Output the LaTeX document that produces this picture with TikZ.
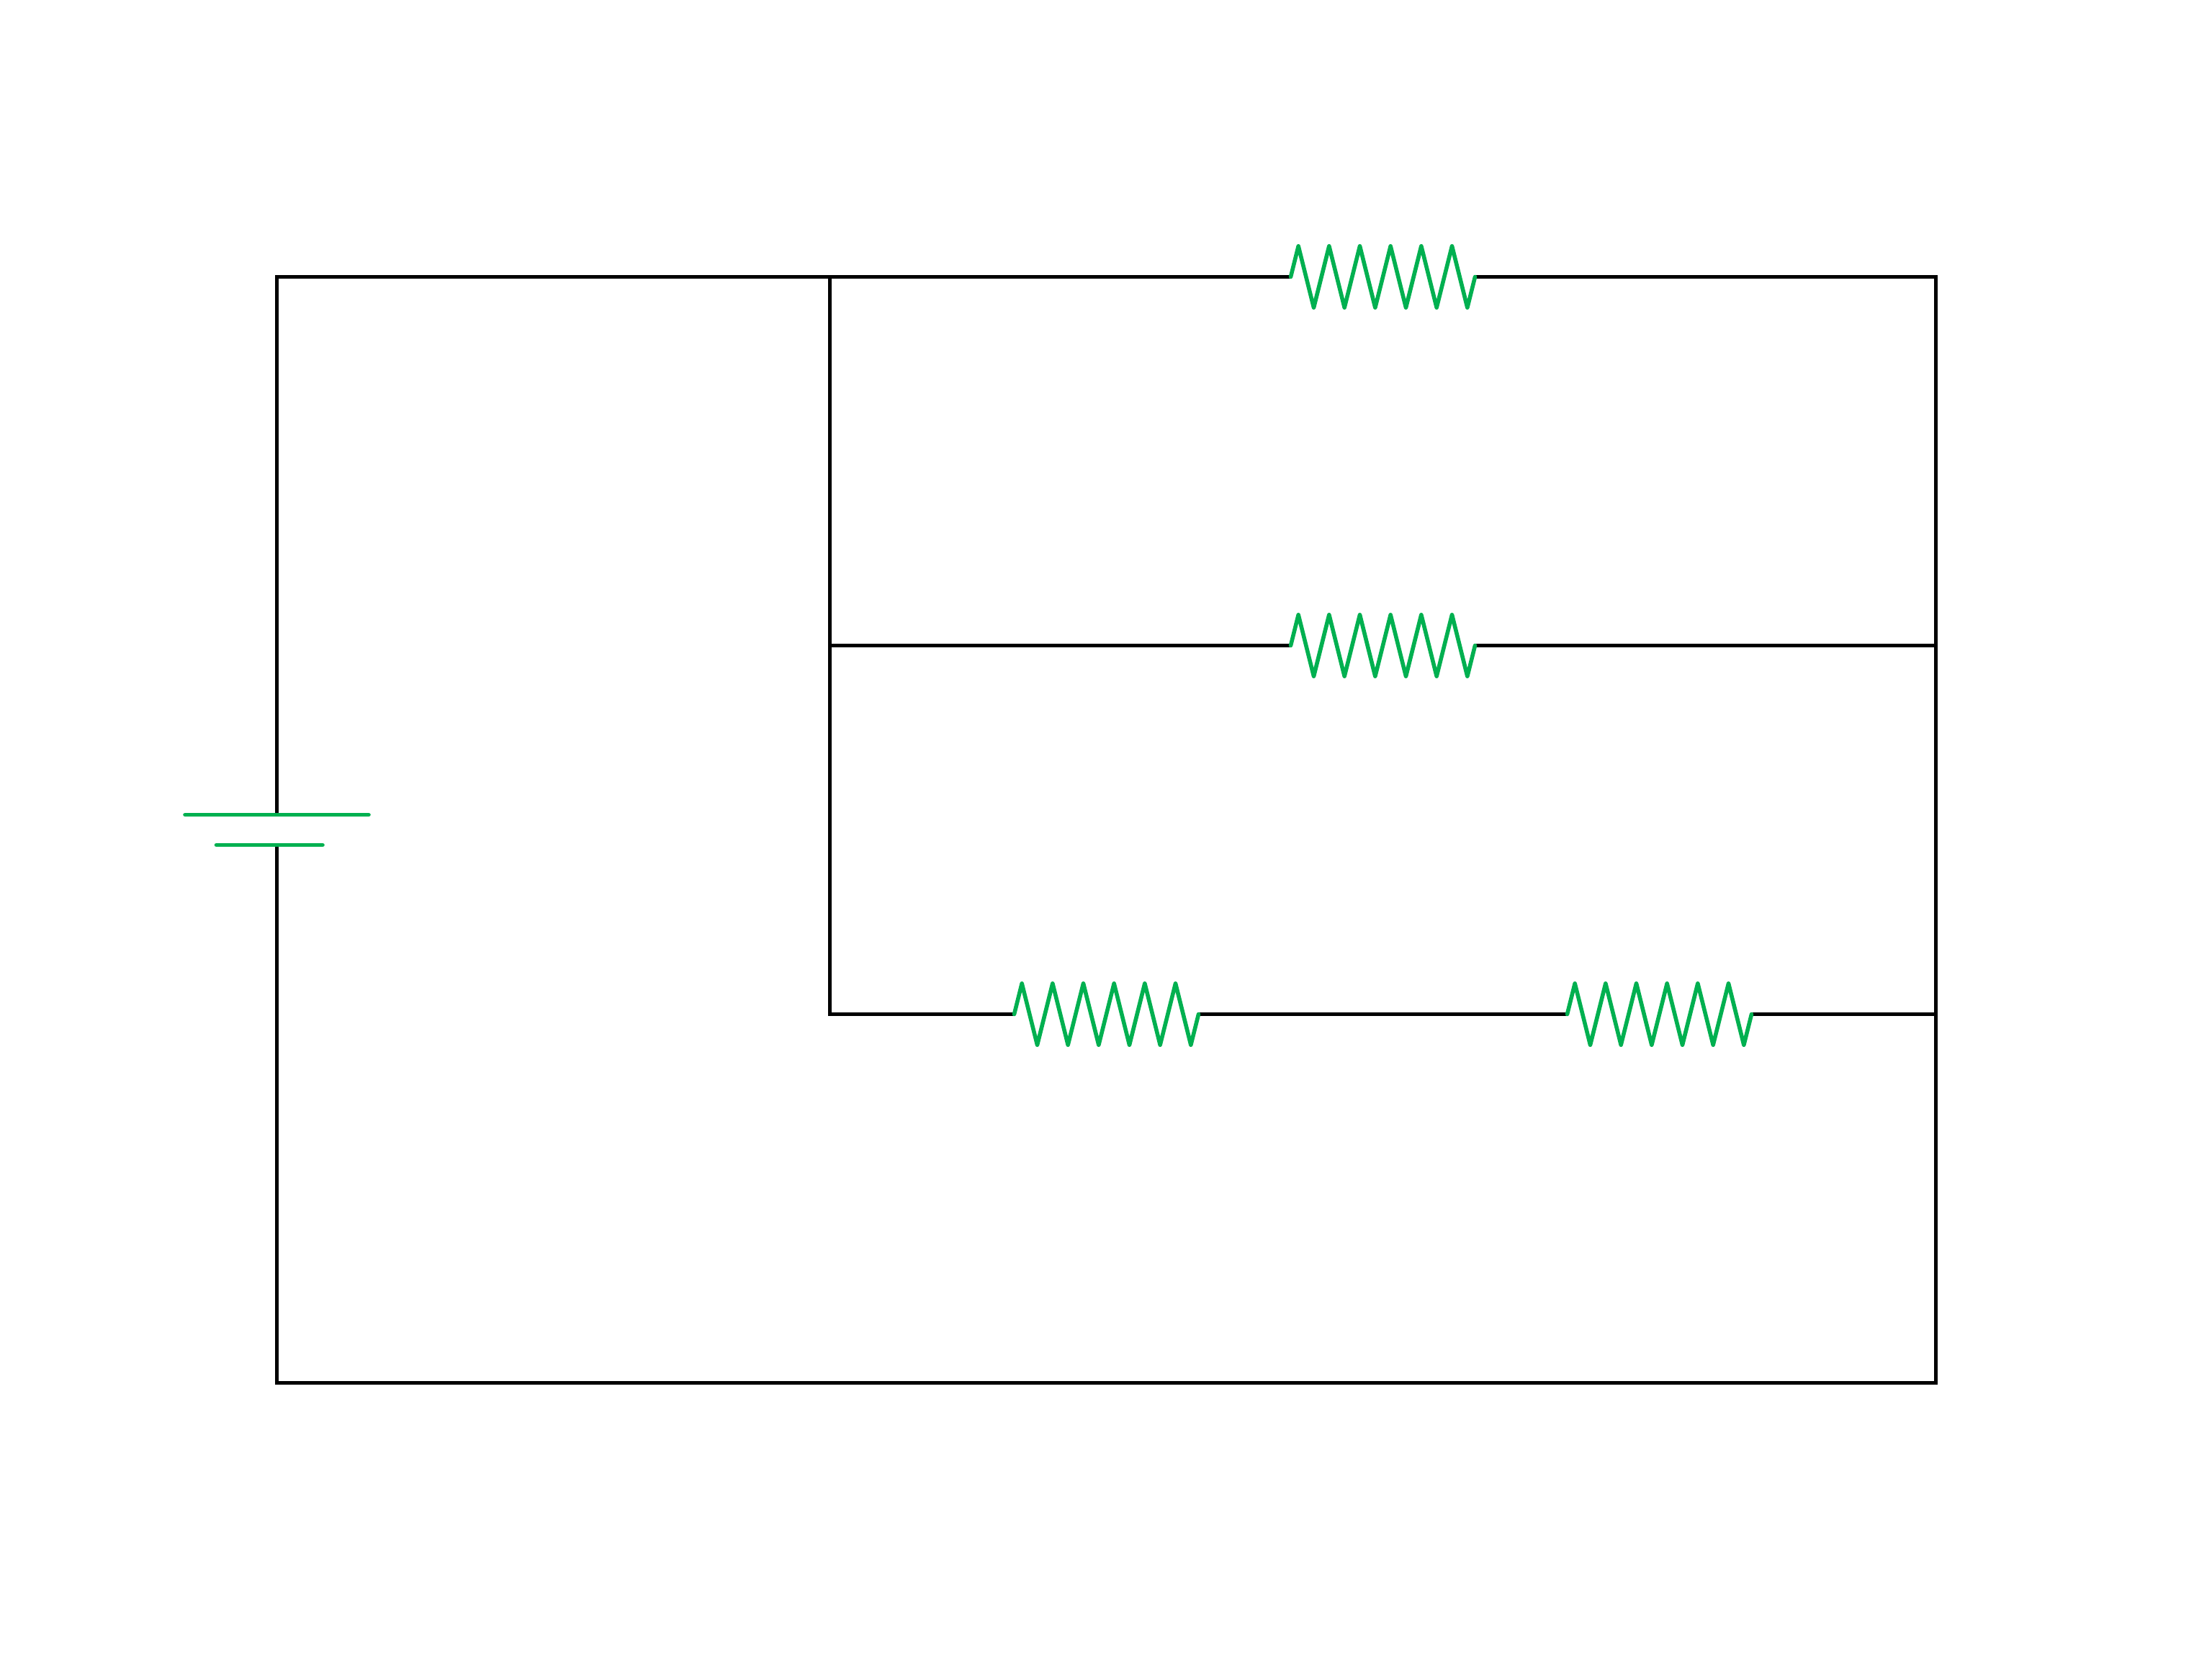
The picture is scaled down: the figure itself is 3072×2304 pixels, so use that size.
\documentclass[tikz,border=0pt]{standalone}
\definecolor{compgreen}{HTML}{00B050}
\tikzset{
  wire/.style={draw=black,line width=0.05cm,miter limit=10},
  part/.style={draw=compgreen,line width=0.056cm,line cap=round,line join=round},
  resistor/.pic={
    \draw[part] (0,0) -- ++(10.667,-42.667)
      \foreach \k in {1,...,5}{ -- ++(21.333,85.333) -- ++(21.333,-85.333)}
      -- ++(21.333,85.333) -- ++(10.667,-42.667);
  }
}
\begin{document}
\begin{tikzpicture}[x=0.01cm,y=-0.01cm]
\useasboundingbox[fill=white] (0,0) rectangle (3072,2304);
% corners and junctions
\coordinate (tl) at (384.5,384.5);
\coordinate (tr) at (2688.5,384.5);
\coordinate (bl) at (384.5,1920.5);
\coordinate (br) at (2688.5,1920.5);
\coordinate (jt) at (1152.5,384.5);
\coordinate (jm) at (1152.5,896.5);
\coordinate (jb) at (1152.5,1408.5);
\coordinate (rm) at (2688.5,896.5);
\coordinate (rb) at (2688.5,1408.5);
% resistor terminals
\coordinate (r1a) at (1792.5,384.5);
\coordinate (r1b) at (2048.5,384.5);
\coordinate (r2a) at (1792.5,896.5);
\coordinate (r2b) at (2048.5,896.5);
\coordinate (r3a) at (1408.5,1408.5);
\coordinate (r3b) at (1664.5,1408.5);
\coordinate (r4a) at (2176.5,1408.5);
\coordinate (r4b) at (2432.5,1408.5);
% battery plates
\coordinate (bp) at (384.5,1131.5);
\coordinate (bn) at (384.5,1173.5);
\coordinate (bp1) at (257,1131.5);
\coordinate (bp2) at (512,1131.5);
\coordinate (bn1) at (300.5,1173.5);
\coordinate (bn2) at (448,1173.5);
% wires
\draw[wire] (bp) -- (tl) -- (r1a);
\draw[wire] (r1b) -- (tr) -- (br) -- (bl) -- (bn);
\draw[wire] (jt) -- (jb) -- (r3a);
\draw[wire] (jm) -- (r2a);
\draw[wire] (r2b) -- (rm);
\draw[wire] (r3b) -- (r4a);
\draw[wire] (r4b) -- (rb);
% components
\pic at (r1a) {resistor};
\pic at (r2a) {resistor};
\pic at (r3a) {resistor};
\pic at (r4a) {resistor};
\draw[part] (bp1) -- (bp2);
\draw[part] (bn1) -- (bn2);
\end{tikzpicture}
\end{document}
